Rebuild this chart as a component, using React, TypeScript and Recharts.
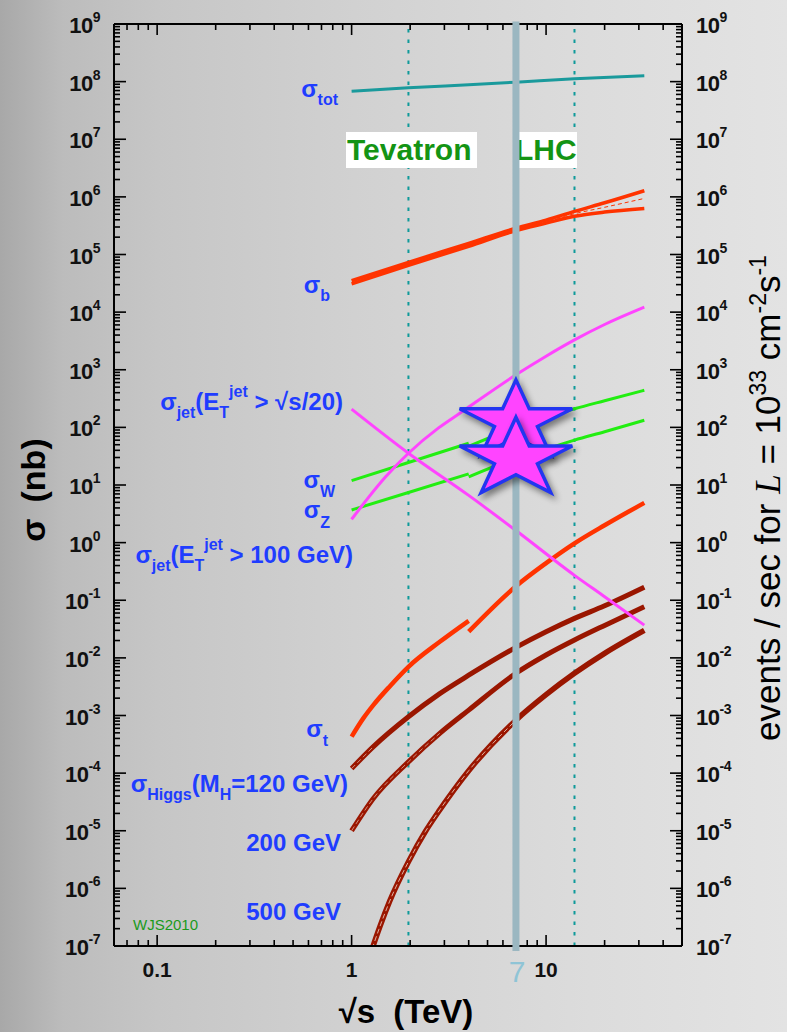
import React from 'react';
import { LineChart, Line, XAxis, YAxis, ReferenceLine, ScatterChart, Scatter } from 'recharts';

const W = 787;
const H = 1032;
const SANS = "'Liberation Sans', Arial, Helvetica, sans-serif";

// sqrt(s) [TeV] vs sigma [nb]
const sigmaTot = [[1, 6.8e7], [1.96, 7.8e7], [4, 8.85e7], [7, 9.8e7], [14, 1.12e8], [32, 1.26e8]];
const sigmaBHi = [[1, 3.5e4], [1.96, 7.3e4], [4, 1.56e5], [7, 2.85e5], [10, 3.95e5], [14, 5.6e5], [20, 7.9e5], [32, 1.28e6]];
const sigmaBLo = [[1, 3.1e4], [1.96, 6.5e4], [4, 1.39e5], [7, 2.6e5], [10, 3.5e5], [14, 4.6e5], [20, 5.45e5], [32, 6.3e5]];
const sigmaBMid = [[7, 2.72e5], [10, 3.75e5], [14, 5.1e5], [20, 6.6e5], [32, 9.4e5]];
const jetScaled = [[1, 207], [1.96, 35.6], [4, 6.6], [7, 1.62], [14, 0.27], [20, 0.115], [32, 0.037]];
const jet100 = [[1, 2.54], [1.5, 14], [1.96, 35.6], [2.8, 98], [3.6, 176], [7, 817], [10, 1720], [14, 3300], [20, 6100], [32, 1.22e4]];
const wPpbar = [[1, 11.9], [1.96, 24.6], [4, 53]];
const wPp = [[4, 47], [7, 100], [10, 150], [14, 210], [20, 290], [32, 440]];
const zPpbar = [[1, 3.69], [1.96, 7.4], [4, 15.6]];
const zPp = [[4, 13.8], [7, 29], [10, 42], [14, 60], [20, 84], [32, 133]];
const topPpbar = [[1, 4.3e-4], [1.15, 9e-4], [1.29, 1.5e-3], [1.57, 3.2e-3], [1.96, 7.0e-3], [2.84, 0.019], [4, 0.044]];
const topPp = [[4, 0.0285], [7, 0.175], [10, 0.44], [14, 0.97], [20, 2.0], [32, 4.9]];
const higgs120 = [[1, 1.2e-4], [1.29, 2.85e-4], [1.96, 9.5e-4], [2.84, 2.4e-3], [4, 5e-3], [7, 0.0152], [10, 0.0284], [14, 0.0485], [20, 0.08], [32, 0.168]];
const higgs200 = [[1, 1.0e-5], [1.29, 3.6e-5], [1.96, 1.57e-4], [2.84, 4.9e-4], [4, 1.24e-3], [7, 5.4e-3], [10, 0.0112], [14, 0.0204], [20, 0.0366], [32, 0.077]];
const higgs500 = [[1.24, 6.6e-8], [1.29, 1e-7], [1.4, 2.2e-7], [1.57, 6e-7], [1.96, 2.9e-6], [2.4, 9.8e-6], [2.84, 2.3e-5], [4, 1.1e-4], [7, 8.3e-4], [10, 2.3e-3], [14, 5.4e-3], [20, 0.012], [32, 0.03]];

const stars = [{ x: 7, y: 126 }, { x: 7, y: 28.4 }];

const tevatron = 1.96;
const lhcDesign = 14;
const lhcNow = 7;

// axis ticks
const xTicks = [0.07, 0.08, 0.09, 0.1, 0.2, 0.3, 0.4, 0.5, 0.6, 0.7, 0.8, 0.9, 1, 2, 3, 4, 5, 6, 7, 8, 9, 10, 20, 30, 40];
const xLabels = [0.1, 1, 10];
const decades = [-7, -6, -5, -4, -3, -2, -1, 0, 1, 2, 3, 4, 5, 6, 7, 8, 9];
const minorMult = [2, 3, 4, 5, 6, 7, 8, 9];
const yTicks = decades.flatMap((e) => [Math.pow(10, e), ...(e < 9 ? minorMult.map((m) => m * Math.pow(10, e)) : [])]);

const X_DOMAIN = [0.06, 50];
const Y_DOMAIN = [1e-7, 1e9];

const pts = (a: number[][]) => a.map(([x, y]) => ({ x, y }));
const isDecade = (v: number) => Math.abs(Math.log10(v) - Math.round(Math.log10(v))) < 1e-6;

const BLUE = '#1f3dff';
const GREEN = '#149414';
const ORANGE = '#ff3300';
const DARKRED = '#9a1600';
const MAGENTA = '#ff44ff';
const LIME = '#22ee11';

const numStyle: React.CSSProperties = { fontFamily: SANS, fontWeight: 700, fontSize: 21, fill: '#111' };
const labStyle: React.CSSProperties = { fontFamily: SANS, fontWeight: 700, fontSize: 24, fill: BLUE };

function BottomTick(p: any) {
  const v = p.payload.value;
  const len = isDecade(v) ? 11 : 6;
  return (
    <g>
      <line x1={p.x} x2={p.x} y1={p.y} y2={p.y - len} stroke="#000" strokeWidth={1.6} />
      {xLabels.includes(v) ? (
        <text x={p.x} y={p.y + 31} textAnchor="middle" style={numStyle}>{String(v)}</text>
      ) : null}
    </g>
  );
}

function TopTick(p: any) {
  const v = p.payload.value;
  const len = isDecade(v) ? 11 : 6;
  return <line x1={p.x} x2={p.x} y1={p.y} y2={p.y + len} stroke="#000" strokeWidth={1.6} />;
}

function PowText({ x, y, v, anchor }: { x: number; y: number; v: number; anchor: 'start' | 'end' }) {
  const e = Math.round(Math.log10(v));
  return (
    <text x={x} y={y + 9} textAnchor={anchor} style={{ ...numStyle, fontSize: 22, letterSpacing: -0.5 }}>
      10<tspan dy={-11} fontSize={14}>{String(e)}</tspan>
    </text>
  );
}

function LeftTick(p: any) {
  const v = p.payload.value;
  const major = isDecade(v);
  return (
    <g>
      <line x1={p.x} x2={p.x + (major ? 12 : 6)} y1={p.y} y2={p.y} stroke="#000" strokeWidth={1.6} />
      {major ? <PowText x={p.x - 14} y={p.y} v={v} anchor="end" /> : null}
    </g>
  );
}

function RightTick(p: any) {
  const v = p.payload.value;
  const major = isDecade(v);
  return (
    <g>
      <line x1={p.x} x2={p.x - (major ? 12 : 6)} y1={p.y} y2={p.y} stroke="#000" strokeWidth={1.6} />
      {major ? <PowText x={p.x + 14} y={p.y} v={v} anchor="start" /> : null}
    </g>
  );
}

function StarShape(p: any) {
  const { cx, cy } = p;
  const R = 41.7;
  const sx = 1.42;
  const r = R * 0.382;
  const d = Array.from({ length: 10 }, (_, i) => {
    const a = -Math.PI / 2 + (i * Math.PI) / 5;
    const rr = i % 2 === 0 ? R : r;
    return `${i === 0 ? 'M' : 'L'}${cx + rr * Math.cos(a) * sx},${cy + rr * Math.sin(a)}`;
  }).join(' ') + ' Z';
  return (
    <path
      d={d}
      fill={MAGENTA}
      stroke="#2236f0"
      strokeWidth={3.5}
      strokeLinejoin="miter"
      style={{ filter: 'drop-shadow(3px 4px 3px rgba(0,0,0,0.45))' }}
    />
  );
}

const curve = (key: string, data: number[][], color: string, width: number, extra: any = {}) => (
  <Line
    key={key}
    xAxisId="b"
    yAxisId="l"
    data={pts(data)}
    dataKey="y"
    type="monotone"
    stroke={color}
    strokeWidth={width}
    dot={false}
    activeDot={false}
    isAnimationActive={false}
    {...extra}
  />
);

export default function App() {
  const axisLine = { stroke: '#000', strokeWidth: 2 };
  return (
    <div
      style={{
        position: 'absolute',
        left: 0,
        top: 0,
        width: W,
        height: H,
        overflow: 'hidden',
        background: 'linear-gradient(90deg, #a8a8a8 0%, #bcbcbc 8%, #c6c6c6 20%, #d1d1d1 45%, #dcdcdc 75%, #e3e3e3 100%)',
      }}
    >
      <div style={{ position: 'absolute', left: 0, top: 0 }}>
        <LineChart width={W} height={H} margin={{ top: 0, right: 5, bottom: 26, left: 14 }}>
          <XAxis xAxisId="b" type="number" dataKey="x" scale="log" domain={X_DOMAIN} allowDataOverflow ticks={xTicks}
            interval={0} tickLine={false} tickSize={0} tickMargin={0} axisLine={axisLine} height={60} tick={BottomTick} />
          <XAxis xAxisId="t" orientation="top" type="number" dataKey="x" scale="log" domain={X_DOMAIN} allowDataOverflow
            ticks={xTicks} interval={0} tickLine={false} tickSize={0} tickMargin={0} axisLine={axisLine} height={24} tick={TopTick} />
          <YAxis yAxisId="l" type="number" scale="log" domain={Y_DOMAIN} allowDataOverflow ticks={yTicks} interval={0}
            tickLine={false} tickSize={0} tickMargin={0} axisLine={axisLine} width={100} tick={LeftTick} />
          <YAxis yAxisId="r" orientation="right" type="number" scale="log" domain={Y_DOMAIN} allowDataOverflow ticks={yTicks}
            interval={0} tickLine={false} tickSize={0} tickMargin={0} axisLine={axisLine} width={100} tick={RightTick} />
          <ReferenceLine xAxisId="b" yAxisId="l" x={tevatron} stroke="#0e9a9a" strokeWidth={2} strokeDasharray="3.5 7" />
          <ReferenceLine xAxisId="b" yAxisId="l" x={lhcDesign} stroke="#0e9a9a" strokeWidth={2} strokeDasharray="3.5 7" />
          {curve('tot', sigmaTot, '#1a9a9c', 3)}
          {curve('bLo', sigmaBLo, ORANGE, 3.5)}
          {curve('bHi', sigmaBHi, ORANGE, 3.5)}
          {curve('bMid', sigmaBMid, ORANGE, 1, { strokeDasharray: '4 3' })}
          {curve('h120', higgs120, DARKRED, 5)}
          {curve('h200', higgs200, DARKRED, 5)}
          {curve('h500', higgs500, DARKRED, 5.5)}
          {curve('h120c', higgs120.slice(0, 2), '#d89a88', 0.9, { strokeDasharray: '5 3' })}
          {curve('h200c', higgs200.slice(0, 4), '#d89a88', 0.9, { strokeDasharray: '5 3' })}
          {curve('h500c', higgs500.slice(0, 9), '#e0b0a0', 1, { strokeDasharray: '5 3' })}
          {curve('topA', topPpbar, ORANGE, 4.5)}
          {curve('topB', topPp, ORANGE, 4.5)}
          {curve('wA', wPpbar, LIME, 3)}
          {curve('wB', wPp, LIME, 3)}
          {curve('zA', zPpbar, LIME, 3)}
          {curve('zB', zPp, LIME, 3)}
          {curve('jetS', jetScaled, MAGENTA, 3)}
          {curve('jet100', jet100, MAGENTA, 3)}
        </LineChart>
      </div>

      <svg width={W} height={H} style={{ position: 'absolute', left: 0, top: 0 }}>
        <rect x={346} y={132} width={131} height={36} fill="#fff" />
        <text x={347} y={160} style={{ fontFamily: SANS, fontWeight: 700, fontSize: 30, fill: GREEN }}>Tevatron</text>
        <rect x={513} y={132} width={64} height={36} fill="#fff" />
        <text x={515} y={160} style={{ fontFamily: SANS, fontWeight: 700, fontSize: 30, fill: GREEN }}>LHC</text>

        <text x={338} y={97} textAnchor="end" style={labStyle}>σ<tspan dy={8} fontSize={16}>tot</tspan></text>
        <text x={330} y={293} textAnchor="end" style={labStyle}>σ<tspan dy={8} fontSize={16}>b</tspan></text>
        <text x={343} y={410} textAnchor="end" style={labStyle}>
          σ<tspan dy={8} fontSize={16}>jet</tspan><tspan dy={-8}>(E</tspan><tspan dy={8} fontSize={16}>T</tspan>
          <tspan dy={-21} fontSize={16}>jet</tspan><tspan dy={13}> &gt; √s/20)</tspan>
        </text>
        <text x={335} y={488} textAnchor="end" style={labStyle}>σ<tspan dy={9} fontSize={16}>W</tspan></text>
        <text x={330} y={518} textAnchor="end" style={labStyle}>σ<tspan dy={10} fontSize={16}>Z</tspan></text>
        <text x={353} y={563} textAnchor="end" style={labStyle}>
          σ<tspan dy={8} fontSize={16}>jet</tspan><tspan dy={-8}>(E</tspan><tspan dy={8} fontSize={16}>T</tspan>
          <tspan dy={-21} fontSize={16}>jet</tspan><tspan dy={13}> &gt; 100 GeV)</tspan>
        </text>
        <text x={328} y={737} textAnchor="end" style={labStyle}>σ<tspan dy={9} fontSize={16}>t</tspan></text>
        <text x={348} y={792} textAnchor="end" style={labStyle}>
          σ<tspan dy={8} fontSize={16}>Higgs</tspan><tspan dy={-8}>(M</tspan><tspan dy={8} fontSize={16}>H</tspan>
          <tspan dy={-8}>=120 GeV)</tspan>
        </text>
        <text x={341} y={851} textAnchor="end" style={labStyle}>200 GeV</text>
        <text x={341} y={920} textAnchor="end" style={labStyle}>500 GeV</text>
        <text x={133} y={930} style={{ fontFamily: SANS, fontSize: 15, fill: '#1b9a1b' }}>WJS2010</text>

        <text x={517} y={982} textAnchor="middle" style={{ fontFamily: SANS, fontSize: 30, fill: '#8fc4d6' }}>7</text>

        <text x={406} y={1023} textAnchor="middle" style={{ fontFamily: SANS, fontWeight: 700, fontSize: 33, fill: '#000' }}>
          √s<tspan dx={18}>(TeV)</tspan>
        </text>
        <text x={45} y={490} textAnchor="middle" transform="rotate(-90 45 490)"
          style={{ fontFamily: SANS, fontWeight: 700, fontSize: 34, fill: '#000' }}>
          σ<tspan dx={16}>(nb)</tspan>
        </text>
        <text x={780} y={498} textAnchor="middle" transform="rotate(-90 780 498)"
          style={{ fontFamily: SANS, fontSize: 35, fill: '#000' }}>
          events / sec for <tspan style={{ fontFamily: "'Liberation Serif', serif", fontStyle: 'italic' }}>L</tspan> = 10
          <tspan dy={-14} fontSize={23}>33</tspan><tspan dy={14}> cm</tspan><tspan dy={-14} fontSize={23}>-2</tspan>
          <tspan dy={14}>s</tspan><tspan dy={-14} fontSize={23}>-1</tspan>
        </text>
      </svg>

      <div style={{ position: 'absolute', left: 0, top: 0 }}>
        <ScatterChart width={W} height={H} margin={{ top: 24, right: 105, bottom: 86, left: 114 }}>
          <XAxis type="number" dataKey="x" scale="log" domain={X_DOMAIN} allowDataOverflow hide />
          <YAxis type="number" dataKey="y" scale="log" domain={Y_DOMAIN} allowDataOverflow hide />
          <ReferenceLine
            segment={[{ x: lhcNow, y: 1.1e9 }, { x: lhcNow, y: 8.2e-8 }]}
            ifOverflow="visible"
            stroke="#9bb7c1"
            strokeWidth={7}
          />
          <Scatter data={stars} shape={StarShape} isAnimationActive={false} />
        </ScatterChart>
      </div>
    </div>
  );
}
